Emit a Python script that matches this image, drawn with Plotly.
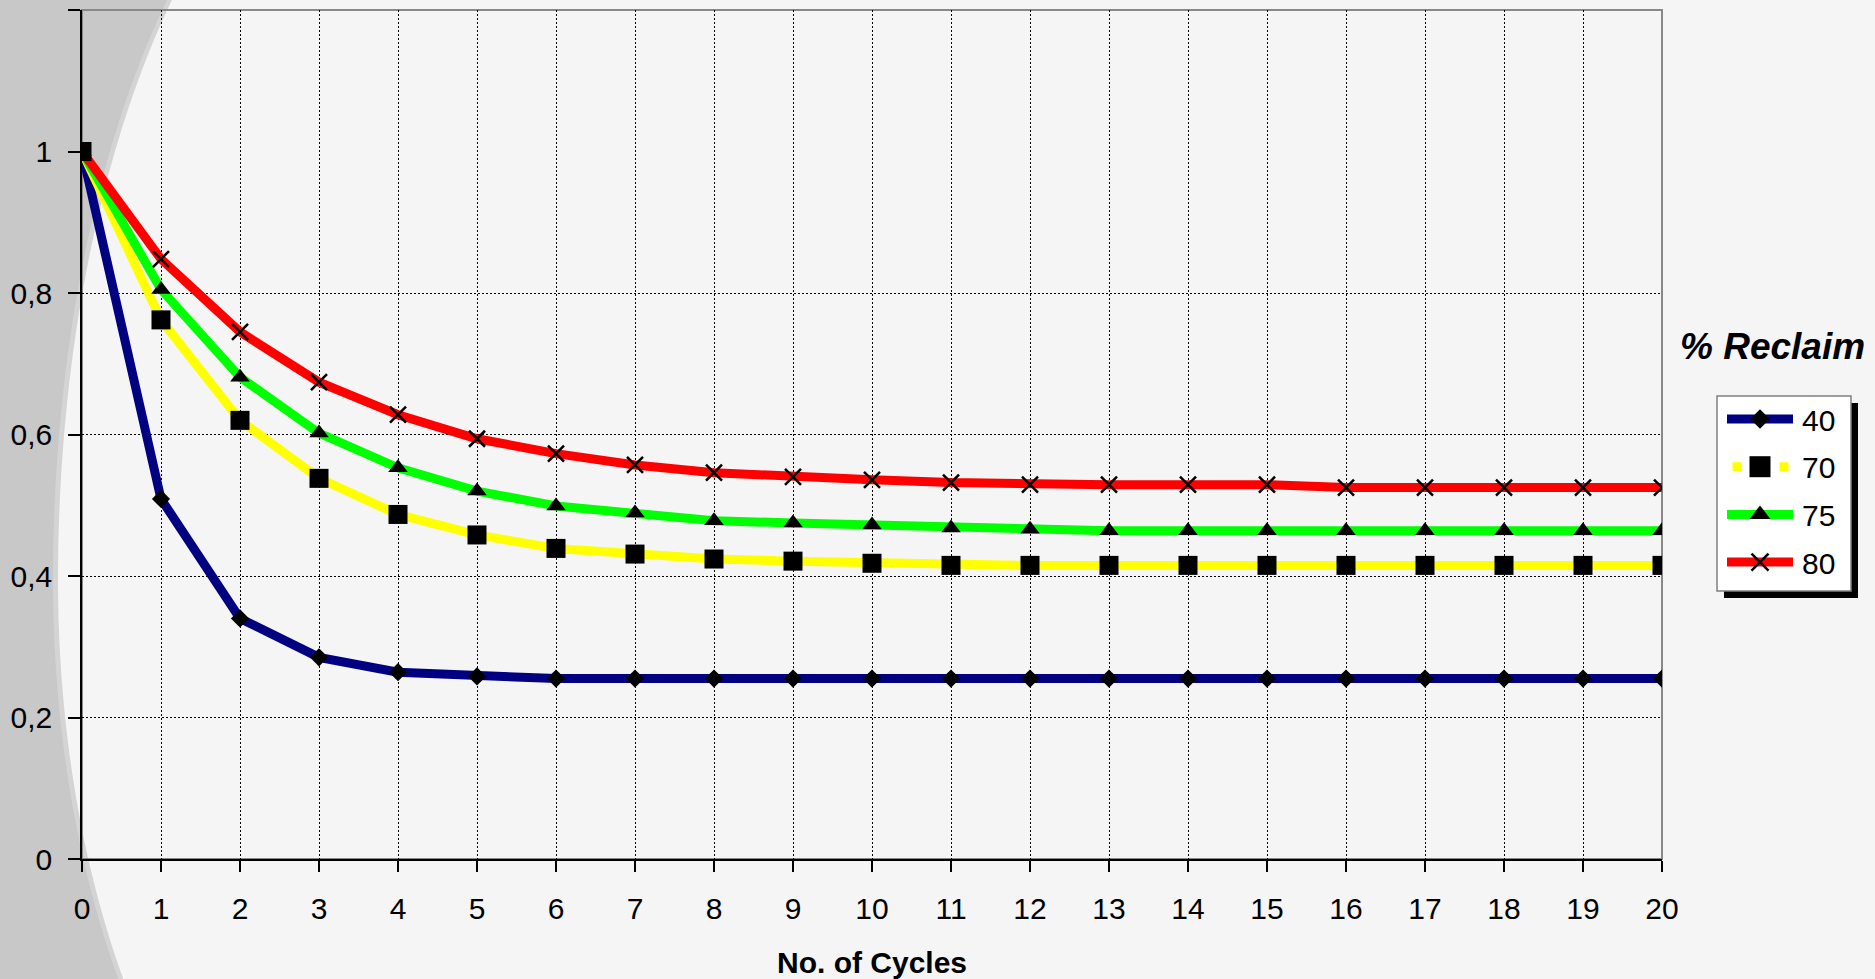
import math
import plotly.graph_objects as go

# ---- data -------------------------------------------------------------
cycles = list(range(21))

reclaim_40 = [1.000, 0.509, 0.340, 0.285, 0.264, 0.258, 0.255, 0.255, 0.255, 0.255, 0.255,
              0.255, 0.255, 0.255, 0.255, 0.255, 0.255, 0.255, 0.255, 0.255, 0.255]
reclaim_70 = [1.000, 0.762, 0.620, 0.538, 0.487, 0.458, 0.439, 0.431, 0.424, 0.421, 0.418,
              0.415, 0.415, 0.415, 0.415, 0.415, 0.415, 0.415, 0.415, 0.415, 0.415]
reclaim_75 = [1.000, 0.805, 0.681, 0.602, 0.553, 0.520, 0.499, 0.489, 0.478, 0.475, 0.472,
              0.468, 0.466, 0.464, 0.464, 0.464, 0.464, 0.464, 0.464, 0.464, 0.464]
reclaim_80 = [1.000, 0.848, 0.745, 0.674, 0.628, 0.594, 0.573, 0.557, 0.546, 0.540, 0.536,
              0.532, 0.529, 0.529, 0.529, 0.529, 0.525, 0.525, 0.525, 0.525, 0.525]

series_names = ["40", "70", "75", "80"]
y_tick_vals = [0, 0.2, 0.4, 0.6, 0.8, 1.0, 1.2]
y_tick_text = ["0", "0,2", "0,4", "0,6", "0,8", "1", ""]
y_grid_vals = [0.2, 0.4, 0.6, 0.8]

# ---- styling ----------------------------------------------------------
line_colors = ["#000080", "#ffff00", "#00ff00", "#ff0000"]
marker_symbols = ["diamond", "square", "triangle-up", "x-thin"]
marker_sizes = [14, 19, 17, 16]
legend_marker_sizes = [15, 21, 18, 17]
FONT = "Liberation Sans, Arial, sans-serif"

W, H = 1875, 979
PLOT_L, PLOT_R, PLOT_T, PLOT_B = 82, 1662, 10, 859


def fx(p):
    return p / W


def fy(p):
    return 1 - p / H


def marker_style(sym, size):
    return dict(symbol=sym, size=size, color="black",
                line=dict(color="black", width=2.5 if sym == "x-thin" else 0))


fig = go.Figure()

all_series = [reclaim_40, reclaim_70, reclaim_75, reclaim_80]

# lines first, then markers on top of every line
for name, vals, col in zip(series_names, all_series, line_colors):
    fig.add_trace(go.Scatter(x=cycles, y=vals, mode="lines", name=name,
                             line=dict(color=col, width=9),
                             showlegend=False, hoverinfo="skip"))
for name, vals, sym, sz in zip(series_names, all_series, marker_symbols, marker_sizes):
    fig.add_trace(go.Scatter(x=cycles, y=vals, mode="markers", name=name,
                             marker=marker_style(sym, sz), showlegend=False))

# ---- legend drawn in pixel space on an overlay subplot ----------------
LEG_BOX = (1717, 396, 1851, 591)
LEG_SHADOW = 7
LEG_LINE_X0, LEG_LINE_X1 = 1727, 1793
LEG_ROW0, LEG_ROW_STEP = 419, 47.7
LEG_TEXT_X = 1800
leg_mid = (LEG_LINE_X0 + LEG_LINE_X1) / 2

for i, (name, col, sym, sz) in enumerate(zip(series_names, line_colors,
                                             marker_symbols, legend_marker_sizes)):
    ry = LEG_ROW0 + i * LEG_ROW_STEP
    if name == "70":
        fig.add_trace(go.Scatter(x=[LEG_LINE_X0 + 10, LEG_LINE_X1 - 9], y=[ry, ry],
                                 mode="markers", xaxis="x2", yaxis="y2",
                                 marker=dict(symbol="square", size=9, color=col,
                                             line=dict(width=0)),
                                 showlegend=False, hoverinfo="skip"))
    else:
        fig.add_trace(go.Scatter(x=[LEG_LINE_X0, LEG_LINE_X1], y=[ry, ry],
                                 mode="lines", xaxis="x2", yaxis="y2",
                                 line=dict(color=col, width=9),
                                 showlegend=False, hoverinfo="skip"))
    fig.add_trace(go.Scatter(x=[leg_mid], y=[ry], mode="markers", xaxis="x2", yaxis="y2",
                             marker=marker_style(sym, sz),
                             showlegend=False, hoverinfo="skip"))
    fig.add_annotation(x=fx(LEG_TEXT_X), y=fy(ry + 1), xref="paper", yref="paper",
                       text=name, showarrow=False, xanchor="left", yanchor="middle",
                       font=dict(family=FONT, size=30, color="black"))

fig.add_annotation(x=fx(1772), y=fy(346), xref="paper", yref="paper",
                   text="<b><i>% Reclaim</i></b>", showarrow=False,
                   xanchor="center", yanchor="middle",
                   font=dict(family=FONT, size=37, color="black"))

fig.add_annotation(x=fx((PLOT_L + PLOT_R) / 2), y=fy(962), xref="paper", yref="paper",
                   text="<b>No. of Cycles</b>", showarrow=False,
                   xanchor="center", yanchor="middle",
                   font=dict(family=FONT, size=30, color="black"))

# ---- background: grey curved band on the left --------------------------
def edge_x(yp, inset=0):
    b = 800 if yp < 580 else 700
    t = (yp - 580) / b
    return 58 - inset + 366 * (1 - math.sqrt(max(0.0, 1 - t * t)))


def band_path(inset):
    pts = [(edge_x(yp, inset), yp) for yp in range(0, H, 6)] + [(edge_x(H, inset), H)]
    return ("M 0 1 " + " ".join(f"L {fx(x):.5f} {fy(y):.5f}" for x, y in pts)
            + " L 0 0 Z")


shapes = [
    dict(type="path", path=band_path(0), xref="paper", yref="paper", layer="below",
         fillcolor="#d4d4d4", line=dict(width=0)),
    dict(type="path", path=band_path(5), xref="paper", yref="paper", layer="below",
         fillcolor="#c8c8c8", line=dict(width=0)),
    # plot frame (top / right edges in grey)
    dict(type="rect", xref="paper", yref="paper", layer="below",
         x0=fx(PLOT_L), x1=fx(PLOT_R), y0=fy(PLOT_B), y1=fy(PLOT_T),
         line=dict(color="#888888", width=2), fillcolor="rgba(0,0,0,0)"),
    # legend shadow + box
    dict(type="rect", xref="paper", yref="paper", layer="below",
         x0=fx(LEG_BOX[0] + LEG_SHADOW), x1=fx(LEG_BOX[2] + LEG_SHADOW),
         y0=fy(LEG_BOX[3] + LEG_SHADOW), y1=fy(LEG_BOX[1] + LEG_SHADOW),
         line=dict(width=0), fillcolor="black"),
    dict(type="rect", xref="paper", yref="paper", layer="below",
         x0=fx(LEG_BOX[0]), x1=fx(LEG_BOX[2]), y0=fy(LEG_BOX[3]), y1=fy(LEG_BOX[1]),
         line=dict(color="#808080", width=1.5), fillcolor="white"),
]

fig.update_layout(
    width=W, height=H,
    autosize=False,
    margin=dict(l=0, r=0, t=0, b=0, pad=0),
    paper_bgcolor="#f5f5f5",
    plot_bgcolor="rgba(0,0,0,0)",
    showlegend=False,
    shapes=shapes,
    font=dict(family=FONT, color="black"),
    xaxis=dict(domain=[fx(PLOT_L), fx(PLOT_R)], range=[0, 20], anchor="y",
               automargin=False,
               tickmode="array", tickvals=cycles, ticktext=[str(c) for c in cycles],
               showgrid=False, zeroline=False,
               minor=dict(tickmode="array", tickvals=cycles[1:-1], showgrid=True,
                          gridcolor="black", gridwidth=1, griddash="2px,2px", ticks=""),
               showline=True, linecolor="black", linewidth=1.5,
               ticks="outside", ticklen=11, tickwidth=1.5, tickcolor="black",
               ticklabelstandoff=11,
               tickfont=dict(family=FONT, size=30, color="black")),
    yaxis=dict(domain=[fy(PLOT_B), fy(PLOT_T)], range=[0, 1.2], anchor="x",
               automargin=False,
               tickmode="array", tickvals=y_tick_vals, ticktext=y_tick_text,
               showgrid=False, zeroline=False,
               minor=dict(tickmode="array", tickvals=y_grid_vals, showgrid=True,
                          gridcolor="black", gridwidth=1, griddash="2px,2px", ticks=""),
               showline=True, linecolor="black", linewidth=1.5,
               ticks="outside", ticklen=12, tickwidth=1.5, tickcolor="black",
               ticklabelstandoff=10,
               tickfont=dict(family=FONT, size=30, color="black")),
    xaxis2=dict(domain=[0, 1], range=[0, W], anchor="y2", visible=False,
                fixedrange=True, automargin=False),
    yaxis2=dict(domain=[0, 1], range=[H, 0], anchor="x2", visible=False,
                fixedrange=True, automargin=False),
)

fig.write_html("out.html",
               post_script="document.body.style.margin='0';"
                           "document.body.style.overflow='hidden';")
